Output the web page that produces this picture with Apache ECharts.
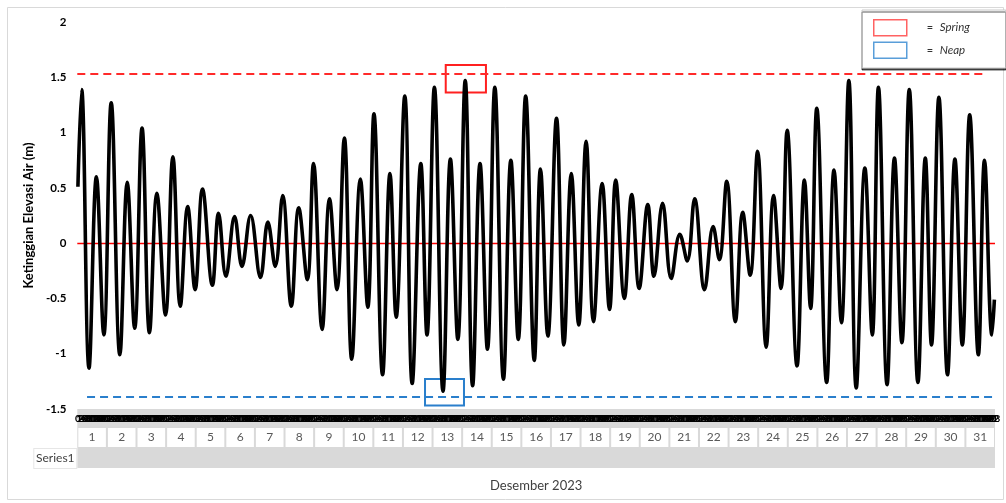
<!DOCTYPE html>
<html>
<head>
<meta charset="utf-8">
<script src="https://cdn.jsdelivr.net/npm/echarts@6/dist/echarts.min.js"></script>
<style>
html,body{margin:0;padding:0;background:#fff;}
#chart{width:1006px;height:503px;}
</style>
</head>
<body>
<div id="chart"></div>
<script>
// ---- data ----
// hour index (0..743, hourly for December 2023) of each turning point of the tide curve
const extremaHour = [0,3,9,15,21,27,34,40,46,52,58,64,71,77,83,89,95,101,109,114,120,127,133,140,148,154,160,166,173,179,186,191,198,204,210,216,222,229,235,240,247,253,258,265,271,278,283,289,296,302,308,314,320,326,332,338,345,351,357,363,370,375,381,388,394,400,406,412,418,425,431,436,443,449,455,462,467,474,481,488,494,500,508,515,520,526,533,539,545,551,558,564,570,575,583,589,594,599,607,613,619,625,631,638,644,649,656,662,668,674,681,687,692,698,705,711,717,723,730,735,741,743];
// water elevation (m) at those hours
const extremaElev = [0.51,1.39,-1.13,0.60,-0.83,1.27,-1.01,0.55,-0.77,1.04,-0.81,0.45,-0.65,0.78,-0.57,0.33,-0.42,0.49,-0.38,0.27,-0.30,0.24,-0.21,0.25,-0.31,0.19,-0.21,0.43,-0.57,0.32,-0.33,0.72,-0.78,0.40,-0.42,0.95,-1.05,0.58,-0.58,1.17,-1.19,0.63,-0.67,1.33,-1.27,0.72,-0.83,1.41,-1.34,0.76,-0.87,1.47,-1.29,0.72,-0.96,1.41,-1.23,0.75,-0.87,1.33,-1.06,0.67,-0.84,1.13,-0.92,0.63,-0.74,0.92,-0.71,0.54,-0.60,0.57,-0.50,0.44,-0.41,0.35,-0.30,0.36,-0.32,0.08,-0.16,0.40,-0.42,0.15,-0.15,0.56,-0.71,0.28,-0.29,0.83,-0.94,0.43,-0.41,1.02,-1.11,0.57,-0.59,1.22,-1.26,0.66,-0.72,1.47,-1.31,0.68,-0.83,1.41,-1.28,0.77,-0.90,1.39,-1.26,0.77,-0.92,1.32,-1.19,0.76,-0.92,1.16,-1.01,0.75,-0.83,-0.51];
// day labels of the data table
const dayLabels = ['1','2','3','4','5','6','7','8','9','10','11','12','13','14','15','16','17','18','19','20','21','22','23','24','25','26','27','28','29','30','31'];
const hoursPerDay = 24;
// hour tick labels (0..23 for each day)
const hourLabels = [];
dayLabels.forEach(function(){ for (let h = 0; h < hoursPerDay; h++) hourLabels.push(String(h)); });
const seriesName = 'Series1';
const xTitle = 'Desember 2023';
const yTitle = 'Ketinggian Elevasi Air (m)';
const yTicks = [-1.5, -1, -0.5, 0, 0.5, 1, 1.5, 2];
// reference levels (m)
const zeroLevel = 0;
const springLevel = 1.53;
const neapLevel = -1.39;
const springLineHours = [-0.5, 735.4];
const neapLineHours = [7.4, 743.5];
// annotation boxes [hourStart, hourEnd], [elevLow, elevHigh]
const springBoxHours = [298.2, 330.8];
const springBoxElev = [1.363, 1.61];
const neapBoxHours = [281.4, 313.0];
const neapBoxElev = [-1.468, -1.228];

// ---- chart ----
const FONT = 'Lato, "Open Sans", sans-serif';
const lineData = extremaHour.map(function(h, i){ return [h, extremaElev[i]]; });
const nHours = hourLabels.length;

const chart = echarts.init(document.getElementById('chart'), null, {renderer: 'canvas'});
const option = {
  backgroundColor: '#ffffff',
  animation: false,
  textStyle: {fontFamily: FONT},
  graphic: [{
    type: 'rect', silent: true, z: -10,
    shape: {x: 7.5, y: 7.5, width: 996, height: 492},
    style: {fill: 'none', stroke: '#d9d9d9', lineWidth: 1}
  }],
  legend: {
    orient: 'vertical',
    left: 862, top: 10,
    padding: [9, 36, 9, 11],
    itemGap: 5,
    itemWidth: 33, itemHeight: 16,
    backgroundColor: '#ffffff',
    borderColor: '#c8c8c8', borderWidth: 1,
    shadowColor: 'rgba(0,0,0,0.65)', shadowOffsetY: 2, shadowBlur: 0,
    selectedMode: false,
    data: [
      {name: 'Spring', icon: 'rect', itemStyle: {color: 'rgba(255,255,255,0)', borderColor: '#ff3b3b', borderWidth: 1.5}},
      {name: 'Neap', icon: 'rect', itemStyle: {color: 'rgba(255,255,255,0)', borderColor: '#2f86d0', borderWidth: 1.5}}
    ],
    formatter: function(name){ return '{eq|=}{nm|' + name + '}'; },
    textStyle: {
      rich: {
        eq: {width: 13, padding: [0, 0, 0, 15], fontSize: 11, color: '#333', fontFamily: FONT},
        nm: {fontStyle: 'italic', fontSize: 11.5, color: '#333', fontFamily: FONT}
      }
    }
  },
  grid: [
    {left: 77.3, right: 11, top: 22, bottom: 94, containLabel: false},
    {left: 77.3, right: 11, top: 409, height: 40, show: true, backgroundColor: '#d9d9d9', borderWidth: 0},
    {left: 77.3, right: 11, top: 449, height: 19, show: true, backgroundColor: '#d9d9d9', borderWidth: 0}
  ],
  xAxis: [
    {
      type: 'value', gridIndex: 0, min: -0.5, max: nHours - 0.5,
      axisLine: {show: false}, axisTick: {show: false}, axisLabel: {show: false}, splitLine: {show: false}
    },
    {
      type: 'category', gridIndex: 0, position: 'bottom', data: hourLabels,
      axisLine: {show: false, onZero: false}, axisTick: {show: false},
      axisLabel: {interval: 0, margin: 5, fontSize: 10, fontWeight: 'bold', color: '#000', fontFamily: FONT},
      splitLine: {show: false}
    },
    {
      type: 'category', gridIndex: 1, position: 'bottom', data: dayLabels,
      axisLine: {show: false}, axisTick: {show: false}, splitLine: {show: false},
      axisLabel: {
        interval: 0, inside: true, margin: 2,
        backgroundColor: '#ffffff', width: 27.6, height: 19, lineHeight: 19,
        align: 'center', fontSize: 12, color: '#595959', fontFamily: FONT
      }
    },
    {
      type: 'value', gridIndex: 2, min: 0, max: 1,
      axisLine: {show: false}, axisTick: {show: false}, axisLabel: {show: false}, splitLine: {show: false},
      name: xTitle, nameLocation: 'middle', nameGap: 11,
      nameTextStyle: {fontSize: 13, color: '#404040', fontFamily: FONT}
    }
  ],
  yAxis: [
    {
      type: 'value', gridIndex: 0, min: yTicks[0], max: yTicks[yTicks.length - 1], interval: 0.5,
      axisLine: {show: false}, axisTick: {show: false}, splitLine: {show: false},
      axisLabel: {margin: 11, fontSize: 11.5, fontWeight: 'bold', color: '#000', fontFamily: FONT},
      name: yTitle, nameLocation: 'middle', nameGap: 41,
      nameTextStyle: {fontSize: 13, fontWeight: 'bold', color: '#000', fontFamily: FONT}
    },
    {
      type: 'value', gridIndex: 1, min: 0, max: 1, show: false
    },
    {
      type: 'category', gridIndex: 2, data: [seriesName],
      axisLine: {show: false}, axisTick: {show: false}, splitLine: {show: false},
      axisLabel: {
        margin: 1,
        formatter: function(v){ return '{cell|' + v + '}'; },
        rich: {
          cell: {
            backgroundColor: '#ffffff', width: 42, height: 19, lineHeight: 19,
            align: 'center', fontSize: 12, color: '#404040', fontFamily: FONT,
            borderColor: '#e6e6e6', borderWidth: 1
          }
        }
      }
    }
  ],
  series: [
    {
      name: 'zeroLine', type: 'scatter', xAxisIndex: 0, yAxisIndex: 0, data: [], z: 1,
      itemStyle: {color: '#ff0000'},
      markLine: {
        silent: true, symbol: 'none', label: {show: false}, z: 1,
        lineStyle: {color: '#ff0000', width: 1.3, type: 'solid', opacity: 1},
        data: [{yAxis: zeroLevel}]
      }
    },
    {
      name: seriesName, type: 'line', xAxisIndex: 0, yAxisIndex: 0,
      data: lineData, smooth: 0.4, symbol: 'none', z: 5,
      lineStyle: {color: '#000000', width: 3.6}
    },
    {
      name: 'Spring', type: 'scatter', xAxisIndex: 0, yAxisIndex: 0, data: [],
      itemStyle: {color: 'rgba(255,255,255,0)', borderColor: '#ff3b3b', borderWidth: 1.5},
      markLine: {
        silent: true, symbol: 'none', label: {show: false},
        lineStyle: {color: '#ff2a2a', width: 2, type: [8, 5]},
        data: [[{coord: [springLineHours[0], springLevel]}, {coord: [springLineHours[1], springLevel]}]]
      },
      markArea: {
        silent: true, label: {show: false},
        itemStyle: {color: 'rgba(0,0,0,0)', borderColor: '#ff2020', borderWidth: 2},
        data: [[{coord: [springBoxHours[0], springBoxElev[1]]}, {coord: [springBoxHours[1], springBoxElev[0]]}]]
      }
    },
    {
      name: 'Neap', type: 'scatter', xAxisIndex: 0, yAxisIndex: 0, data: [],
      itemStyle: {color: 'rgba(255,255,255,0)', borderColor: '#2f86d0', borderWidth: 1.5},
      markLine: {
        silent: true, symbol: 'none', label: {show: false},
        lineStyle: {color: '#2a7fcc', width: 2, type: [8, 5]},
        data: [[{coord: [neapLineHours[0], neapLevel]}, {coord: [neapLineHours[1], neapLevel]}]]
      },
      markArea: {
        silent: true, label: {show: false},
        itemStyle: {color: 'rgba(0,0,0,0)', borderColor: '#2a7fcc', borderWidth: 2},
        data: [[{coord: [neapBoxHours[0], neapBoxElev[1]]}, {coord: [neapBoxHours[1], neapBoxElev[0]]}]]
      }
    }
  ]
};
chart.setOption(option);
</script>
</body>
</html>
